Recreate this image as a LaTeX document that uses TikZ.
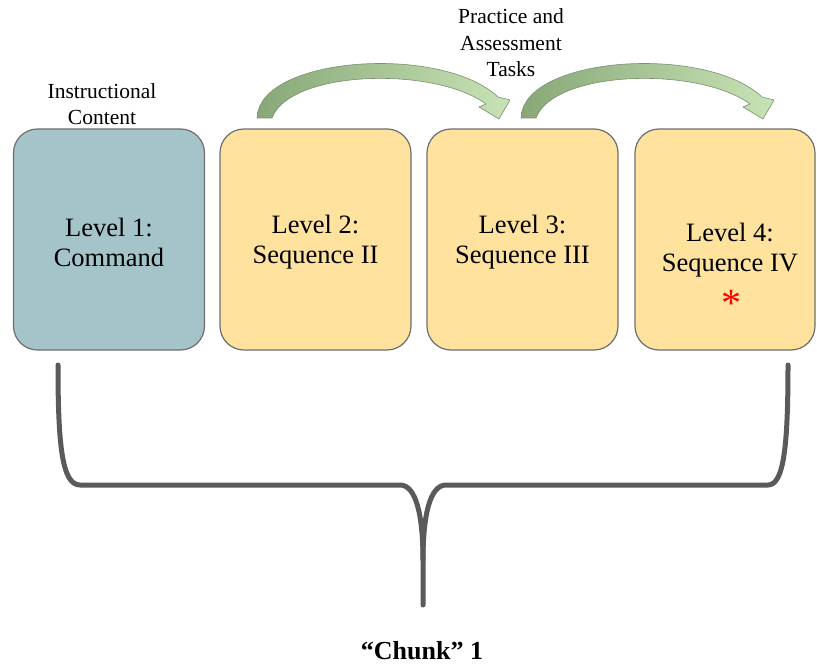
\documentclass[tikz,border=0pt]{standalone}
\usepackage{fontspec}
\setmainfont{Liberation Serif}
\definecolor{boxline}{HTML}{6E6E6E}
\definecolor{bluebox}{HTML}{A5C4CA}
\definecolor{yellowbox}{HTML}{FEE29E}
\definecolor{greendark}{HTML}{88A878}
\definecolor{greenlight}{HTML}{C8E3B6}
\definecolor{greenline}{HTML}{7A8F70}
\definecolor{bracegray}{HTML}{5A5A5A}
\begin{document}
\begin{tikzpicture}[x=1pt,y=-1pt,
  box/.style={draw=boxline, line width=1.2pt, rounded corners=24pt,
    minimum width=191pt, minimum height=221pt, inner sep=0pt, align=center,
    font=\fontsize{26.5}{30}\selectfont},
  toplabel/.style={align=center, inner sep=0pt, font=\fontsize{21.5}{26.5}\selectfont},
  blockarrow/.style={left color=greendark, right color=greenlight, draw=greenline, line width=0.6pt, line join=round},
  brace/.style={draw=bracegray, line width=5pt, line cap=round, line join=round}]
\useasboundingbox (0,0) rectangle (817,666);

% boxes
\node[box, fill=bluebox] (b1) at (109,239.5) {};
\node[box, fill=yellowbox] (b2) at (315.5,239.5) {};
\node[box, fill=yellowbox] (b3) at (522.5,239.5) {};
\node[box, fill=yellowbox, minimum width=180pt] (b4) at (725,239.5) {};
\node[align=center, inner sep=0pt, font=\fontsize{26.5}{30}\selectfont] (t1) at (109,242.5) {Level 1:\\Command};
\node[align=center, inner sep=0pt, font=\fontsize{26.5}{30}\selectfont] (t2) at (315.5,242.5) {Level 2:\\Sequence II};
\node[align=center, inner sep=0pt, font=\fontsize{26.5}{30}\selectfont] (t3) at (522.5,242.5) {Level 3:\\Sequence III};
\node[align=center, inner sep=0pt, font=\fontsize{26.5}{30}\selectfont] (t4) at (730,250) {Level 4:\\Sequence IV};
\node[anchor=base, inner sep=0pt, text=red, font=\fontsize{40}{40}\selectfont] (star) at (731,316) {*};

% top labels
\node[toplabel] (ic) at (102,104) {Instructional\\Content};
\node[toplabel] (pat) at (511,43) {Practice and\\Assessment\\Tasks};

% curved block arrows
\foreach \dx in {0,264}{
  \begin{scope}[xshift=\dx]
  \path[blockarrow] (257,118) .. controls (259,56) and (442,44) .. (498,97)
    -- (510,100) -- (499,119) -- (479,107) -- (486,104)
    .. controls (434,66) and (290,70) .. (272,118) -- cycle;
  \end{scope}
}

% brace
\coordinate (bl) at (58,365);
\coordinate (br) at (788,365);
\coordinate (bt) at (423,605);
\draw[brace] (bl) .. controls (58,445) and (62,485) .. (80,485) -- (400,485)
  .. controls (416,485) and (423,515) .. (423,560) -- (bt);
\draw[brace] (br) .. controls (788,445) and (784,485) .. (768,485) -- (446,485)
  .. controls (430,485) and (423,515) .. (423,560);

% caption
\node[inner sep=0pt, font=\fontsize{26}{30}\selectfont\bfseries] (chunk) at (422,651) {“Chunk” 1};
\end{tikzpicture}
\end{document}
